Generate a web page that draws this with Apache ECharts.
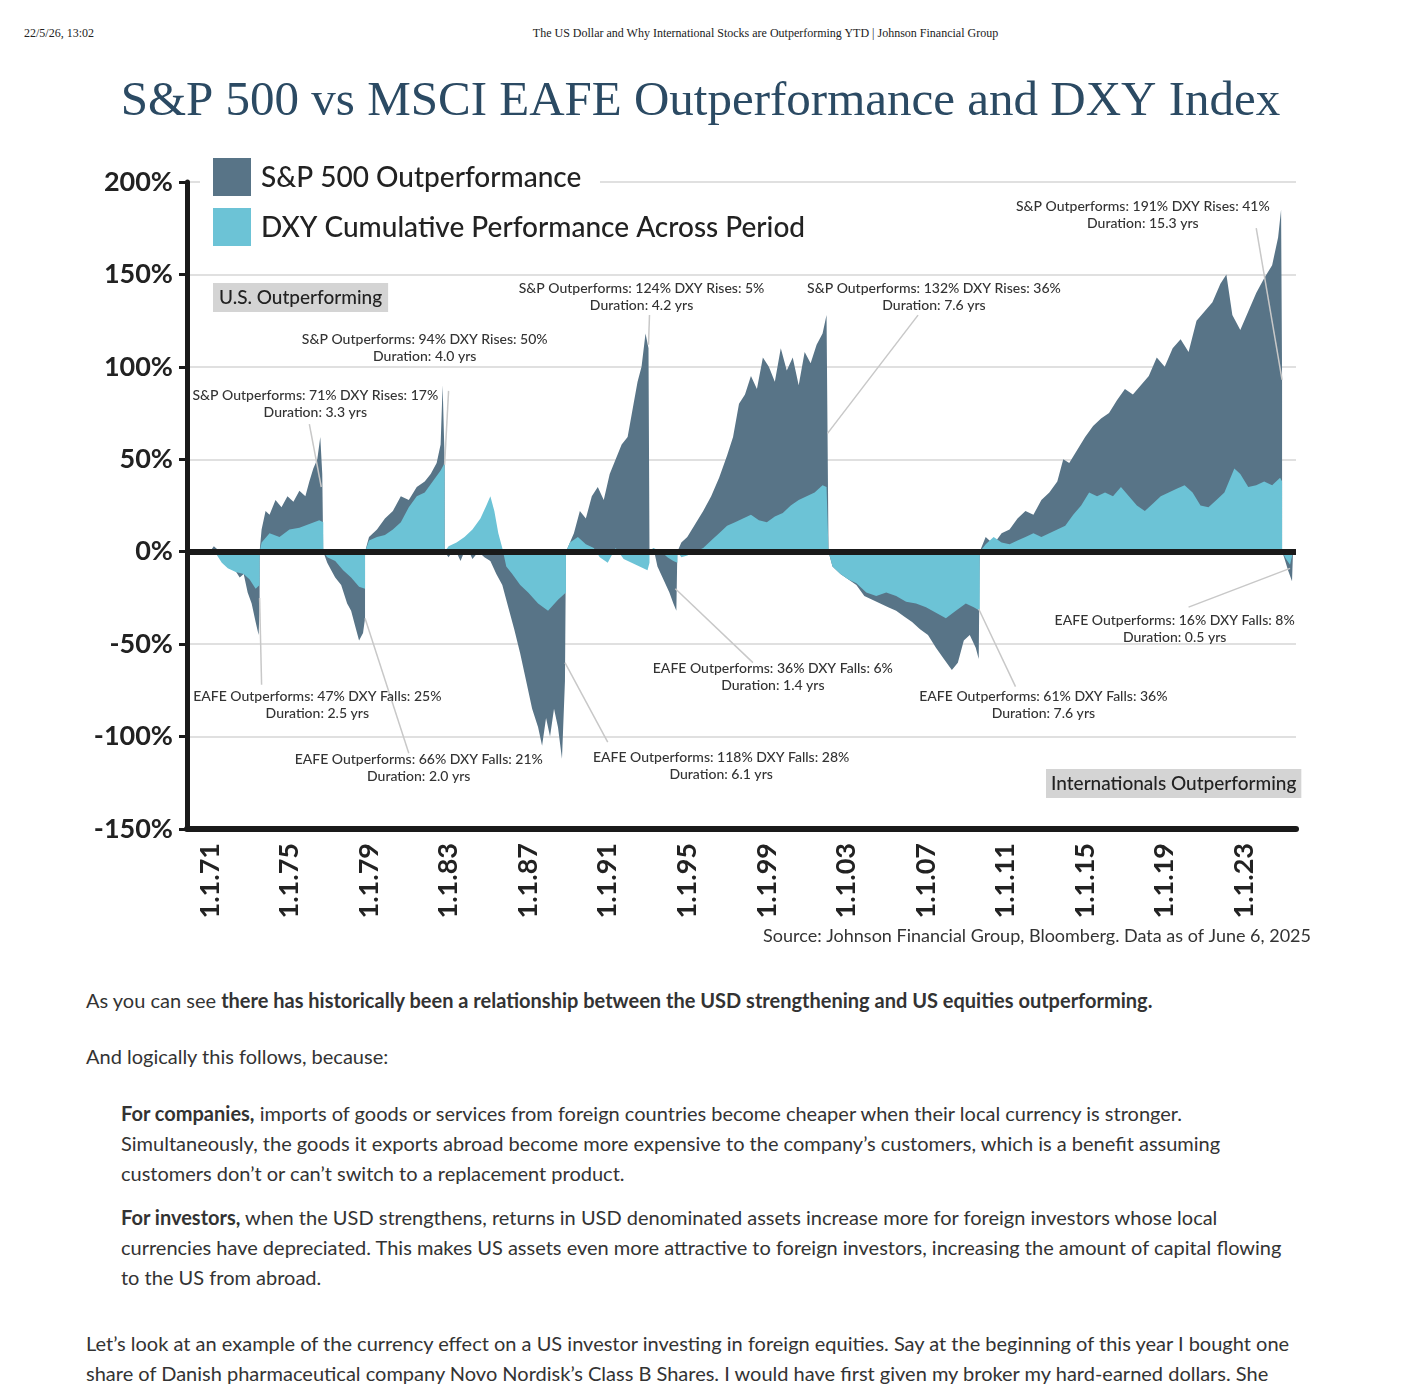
<!DOCTYPE html>
<html><head><meta charset="utf-8">
<script src="https://cdn.jsdelivr.net/npm/echarts@6/dist/echarts.min.js"></script>
<style>
body{margin:0;background:#fff;width:1401px;height:1392px;overflow:hidden;position:relative;font-family:Lato,sans-serif}
#c{position:absolute;left:0;top:0;width:1401px;height:960px}
.hd{position:absolute;top:26px;font-family:"Liberation Serif",serif;font-size:12px;color:#222}
.body{position:absolute;left:86px;font-size:20px;color:#333;line-height:30px;white-space:nowrap}
.ind{left:121px}
</style></head><body>
<div class="hd" style="left:24px">22/5/26, 13:02</div>
<div class="hd" style="left:0;width:1531px;text-align:center">The US Dollar and Why International Stocks are Outperforming YTD | Johnson Financial Group</div>
<div id="c"></div>
<div class="body" style="top:985px">As you can see <b>there has historically been a relationship between the USD strengthening and US equities outperforming.</b></div>
<div class="body" style="top:1041px">And logically this follows, because:</div>
<div class="body ind" style="top:1098px"><b>For companies,</b> imports of goods or services from foreign countries become cheaper when their local currency is stronger.<br>Simultaneously, the goods it exports abroad become more expensive to the company’s customers, which is a benefit assuming<br>customers don’t or can’t switch to a replacement product.</div>
<div class="body ind" style="top:1202px"><b>For investors,</b> when the USD strengthens, returns in USD denominated assets increase more for foreign investors whose local<br>currencies have depreciated. This makes US assets even more attractive to foreign investors, increasing the amount of capital flowing<br>to the US from abroad.</div>
<div class="body" style="top:1328px">Let’s look at an example of the currency effect on a US investor investing in foreign equities. Say at the beginning of this year I bought one<br>share of Danish pharmaceutical company Novo Nordisk’s Class B Shares. I would have first given my broker my hard-earned dollars. She</div>
<script>
const xTicks=[1971,1975,1979,1983,1987,1991,1995,1999,2003,2007,2011,2015,2019,2023];
const yTicks=[-150,-100,-50,0,50,100,150,200];
const spDark=[
[1971.0,0],[1971.2,3],[1971.4,1],[1971.6,-4],[1971.9,-6],[1972.2,-9],[1972.5,-14],[1972.7,-12],[1972.9,-22],[1973.1,-28],[1973.3,-38],[1973.45,-45],[1973.5,-30],[1973.5,0],
[1973.6,12],[1973.8,22],[1974.0,20],[1974.3,28],[1974.6,24],[1974.9,30],[1975.2,27],[1975.5,33],[1975.8,30],[1976.0,38],[1976.2,45],[1976.4,50],[1976.55,62],[1976.65,42],[1976.7,0],
[1976.9,-6],[1977.1,-10],[1977.3,-14],[1977.6,-18],[1977.9,-28],[1978.1,-32],[1978.3,-40],[1978.5,-48],[1978.7,-44],[1978.8,-36],[1978.8,0],
[1979.0,8],[1979.4,12],[1979.8,18],[1980.2,22],[1980.6,30],[1981.0,28],[1981.4,35],[1981.8,38],[1982.1,42],[1982.4,48],[1982.6,58],[1982.7,90],[1982.8,50],[1982.8,0],
[1983.0,-3],[1983.3,2],[1983.6,-5],[1983.9,3],[1984.2,-4],[1984.5,0],[1984.8,-3],[1985.1,-5],[1985.4,-12],[1985.7,-18],[1986.0,-30],[1986.3,-42],[1986.6,-55],[1986.9,-70],[1987.2,-85],[1987.5,-95],[1987.7,-105],[1987.9,-90],[1988.1,-100],[1988.3,-85],[1988.5,-95],[1988.7,-112],[1988.85,-70],[1988.9,0],
[1989.1,5],[1989.3,10],[1989.6,22],[1989.9,18],[1990.2,30],[1990.5,35],[1990.8,28],[1991.1,42],[1991.4,50],[1991.7,58],[1992.0,62],[1992.3,80],[1992.5,92],[1992.7,100],[1992.9,118],[1993.05,110],[1993.1,0],
[1993.3,2],[1993.5,-8],[1993.8,-15],[1994.1,-22],[1994.3,-28],[1994.45,-32],[1994.5,0],
[1994.7,5],[1995.0,8],[1995.4,15],[1995.8,22],[1996.2,30],[1996.6,40],[1997.0,52],[1997.3,62],[1997.6,80],[1997.9,85],[1998.2,95],[1998.5,88],[1998.8,105],[1999.1,100],[1999.4,92],[1999.7,110],[2000.0,98],[2000.3,105],[2000.6,90],[2000.9,108],[2001.2,102],[2001.5,112],[2001.8,118],[2002.0,128],[2002.1,0],
[2002.3,-8],[2002.7,-12],[2003.1,-15],[2003.5,-18],[2003.9,-24],[2004.3,-26],[2004.7,-28],[2005.1,-30],[2005.5,-32],[2005.9,-35],[2006.3,-38],[2006.7,-42],[2007.1,-45],[2007.5,-52],[2007.9,-58],[2008.3,-64],[2008.6,-60],[2008.9,-48],[2009.2,-45],[2009.5,-52],[2009.65,-58],[2009.7,0],
[2010.0,8],[2010.4,4],[2010.8,10],[2011.2,12],[2011.6,18],[2012.0,22],[2012.4,20],[2012.8,28],[2013.2,32],[2013.6,38],[2013.9,50],[2014.2,48],[2014.6,55],[2015.0,62],[2015.4,68],[2015.8,72],[2016.2,75],[2016.6,82],[2017.0,88],[2017.4,85],[2017.8,90],[2018.2,95],[2018.6,105],[2019.0,100],[2019.4,110],[2019.8,115],[2020.2,108],[2020.6,125],[2021.0,130],[2021.4,135],[2021.8,145],[2022.1,150],[2022.4,128],[2022.8,120],[2023.2,130],[2023.6,140],[2024.0,148],[2024.4,155],[2024.7,170],[2024.85,185],[2024.9,95],[2024.9,0],
[2025.0,-3],[2025.2,-10],[2025.4,-16],[2025.45,0]];
const dxyLight=[
[1971.0,0],[1971.3,-1],[1971.6,-6],[1971.9,-9],[1972.3,-11],[1972.7,-12],[1973.0,-15],[1973.3,-20],[1973.5,-18],[1973.5,0],
[1973.6,5],[1974.0,10],[1974.5,8],[1975.0,12],[1975.5,13],[1976.0,15],[1976.5,17],[1976.7,16],[1976.7,0],
[1976.9,-3],[1977.3,-5],[1977.7,-10],[1978.1,-14],[1978.5,-19],[1978.8,-20],[1978.8,0],
[1979.0,6],[1979.4,8],[1979.8,9],[1980.2,12],[1980.6,16],[1981.0,24],[1981.4,30],[1981.8,32],[1982.2,38],[1982.6,44],[1982.8,48],[1982.8,0],
[1983.0,3],[1983.4,5],[1983.8,8],[1984.2,12],[1984.6,18],[1984.9,25],[1985.1,30],[1985.3,22],[1985.5,10],[1985.7,2],[1985.9,-8],[1986.2,-12],[1986.6,-18],[1987.0,-22],[1987.5,-28],[1988.0,-32],[1988.5,-26],[1988.9,-22],[1988.9,0],
[1989.1,5],[1989.5,8],[1989.9,4],[1990.3,2],[1990.6,-3],[1991.0,-6],[1991.4,2],[1991.8,-4],[1992.2,-6],[1992.6,-8],[1993.0,-10],[1993.1,-6],[1993.1,0],
[1993.3,2],[1993.7,0],[1994.0,-3],[1994.3,-5],[1994.5,-6],[1994.5,0],
[1994.7,-3],[1995.0,-2],[1995.4,0],[1995.8,2],[1996.2,6],[1996.6,10],[1997.0,14],[1997.4,16],[1997.8,18],[1998.2,20],[1998.6,17],[1999.0,16],[1999.4,19],[1999.8,21],[2000.2,25],[2000.6,28],[2001.0,30],[2001.4,32],[2001.8,36],[2002.0,35],[2002.1,0],
[2002.3,-8],[2002.7,-12],[2003.1,-15],[2003.5,-17],[2004.0,-22],[2004.5,-24],[2005.0,-22],[2005.5,-24],[2006.0,-27],[2006.5,-28],[2007.0,-30],[2007.5,-33],[2008.0,-36],[2008.5,-32],[2009.0,-28],[2009.4,-30],[2009.7,-32],[2009.7,0],
[2010.0,4],[2010.4,8],[2010.8,5],[2011.2,4],[2011.6,6],[2012.0,8],[2012.4,10],[2012.8,8],[2013.2,10],[2013.6,12],[2014.0,14],[2014.4,20],[2014.8,25],[2015.2,32],[2015.6,30],[2016.0,32],[2016.4,30],[2016.8,35],[2017.2,30],[2017.6,25],[2018.0,22],[2018.4,26],[2018.8,30],[2019.2,32],[2019.6,34],[2020.0,36],[2020.4,32],[2020.8,25],[2021.2,24],[2021.6,28],[2022.0,32],[2022.5,45],[2022.8,42],[2023.2,35],[2023.6,36],[2024.0,38],[2024.4,36],[2024.8,40],[2024.9,38],[2024.9,0],
[2025.1,-4],[2025.3,-7],[2025.4,-8],[2025.45,0]];
const annTexts=[
"S&P Outperforms: 71% DXY Rises: 17%\nDuration: 3.3 yrs",
"S&P Outperforms: 94% DXY Rises: 50%\nDuration: 4.0 yrs",
"S&P Outperforms: 124% DXY Rises: 5%\nDuration: 4.2 yrs",
"S&P Outperforms: 132% DXY Rises: 36%\nDuration: 7.6 yrs",
"S&P Outperforms: 191% DXY Rises: 41%\nDuration: 15.3 yrs",
"EAFE Outperforms: 47% DXY Falls: 25%\nDuration: 2.5 yrs",
"EAFE Outperforms: 66% DXY Falls: 21%\nDuration: 2.0 yrs",
"EAFE Outperforms: 118% DXY Falls: 28%\nDuration: 6.1 yrs",
"EAFE Outperforms: 36% DXY Falls: 6%\nDuration: 1.4 yrs",
"EAFE Outperforms: 61% DXY Falls: 36%\nDuration: 7.6 yrs",
"EAFE Outperforms: 16% DXY Falls: 8%\nDuration: 0.5 yrs"];
// label centre, leader start, leader tip (data coords)
const annPos=[
[[1976.3,80],[1976.0,69],[1976.6,35]],
[[1981.8,110],[1983.0,87],[1982.8,47]],
[[1992.7,138],[1993.1,128],[1993.05,112]],
[[2007.4,138],[2006.6,128],[2002.05,64]],
[[2017.9,182],[2023.6,175],[2024.9,93]],
[[1976.4,-83],[1973.6,-72],[1973.5,-25]],
[[1981.5,-117],[1981.0,-109],[1978.8,-36]],
[[1996.7,-116],[1991.0,-103],[1988.85,-60]],
[[1999.3,-68],[1998.3,-60],[1994.4,-20]],
[[2012.9,-83],[2011.5,-73],[2009.65,-31]],
[[2019.5,-42],[2020.2,-30],[2025.3,-9]]];
const DARK='#587487', LIGHT='#6cc3d6';
const chart=echarts.init(document.getElementById('c'));
chart.setOption({
 animation:false,
 grid:{left:187,right:105,top:182,bottom:131},
 xAxis:{type:'value',min:1969.85,max:2025.6,
  axisLine:{onZero:false,lineStyle:{color:'#1a1a1a',width:6}},
  axisTick:{show:false},splitLine:{show:false},
  axisLabel:{customValues:xTicks,rotate:90,fontSize:27,fontWeight:'bold',color:'#222',fontFamily:'Lato',margin:14,
   formatter:v=>'1.1.'+String(v).slice(2)}},
 yAxis:{type:'value',min:-150,max:200,
  axisLine:{show:true,lineStyle:{color:'#1a1a1a',width:5}},
  axisTick:{show:true,customValues:yTicks,length:8,lineStyle:{color:'#1a1a1a',width:3}},
  splitLine:{show:true,lineStyle:{color:'#d6d6d6',width:1.5}},
  axisLabel:{customValues:yTicks,fontSize:27,fontWeight:'bold',color:'#222',fontFamily:'Lato',margin:14,formatter:v=>v+'%'}},
 series:[
  {type:'line',data:spDark,showSymbol:false,lineStyle:{width:0},areaStyle:{color:DARK,opacity:1},z:2,
   markLine:{symbol:'none',silent:true,label:{show:false},lineStyle:{color:'#1a1a1a',width:6,type:'solid'},data:[{yAxis:0}],z:5}},
  {type:'line',data:dxyLight,showSymbol:false,lineStyle:{width:0},areaStyle:{color:LIGHT,opacity:1},z:3}
 ]
});
const g=[];
g.push({type:'text',left:'center',top:78,style:{text:'S&P 500 vs MSCI EAFE Outperformance and DXY Index',font:'500 49px "Liberation Serif"',fill:'#2b4a63'}});
g.push({type:'rect',shape:{x:200,y:155,width:400,height:50},style:{fill:'#fff'},z:10});
g.push({type:'rect',shape:{x:213,y:158,width:38,height:38},style:{fill:DARK},z:11});
g.push({type:'rect',shape:{x:213,y:208,width:38,height:38},style:{fill:LIGHT},z:11});
g.push({type:'text',x:261,y:164,style:{text:'S&P 500 Outperformance',font:'500 28px Lato',fill:'#222'},z:11});
g.push({type:'text',x:261,y:214,style:{text:'DXY Cumulative Performance Across Period',font:'500 28px Lato',fill:'#222'},z:11});
g.push({type:'text',x:213,y:283,style:{text:'U.S. Outperforming',font:'500 19px Lato',fill:'#222',backgroundColor:'#d4d4d4',padding:[5,6]},z:11});
g.push({type:'text',x:1046,y:769,style:{text:'Internationals Outperforming',font:'500 19px Lato',fill:'#222',backgroundColor:'#d4d4d4',padding:[5,5]},z:11});
g.push({type:'text',x:1311,y:927,style:{text:'Source: Johnson Financial Group, Bloomberg. Data as of June 6, 2025',font:'18px Lato',fill:'#333',align:'right'},z:11});
annTexts.forEach((t,i)=>{
 const [c,s,e]=annPos[i].map(p=>chart.convertToPixel({gridIndex:0},p));
 g.push({type:'line',shape:{x1:s[0],y1:s[1],x2:e[0],y2:e[1]},style:{stroke:'#c8c8c8',lineWidth:1.5},z:9});
 g.push({type:'text',x:c[0],y:c[1],style:{text:t,font:'500 14px Lato',fill:'#333',align:'center',verticalAlign:'middle',lineHeight:17},z:12});
});
chart.setOption({graphic:g});
</script></body></html>
